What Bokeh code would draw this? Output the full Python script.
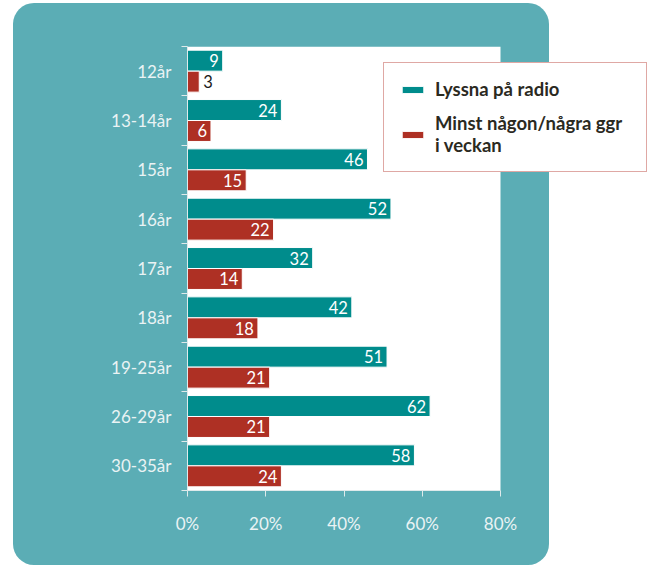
from bokeh.plotting import figure
from bokeh.models import (ColumnDataSource, Range1d, FixedTicker, PrintfTickFormatter,
                          BoxAnnotation, Legend, LegendItem)
from bokeh.embed import file_html
from bokeh.resources import INLINE
from bokeh.core.properties import value

categories = ["12år", "13-14år", "15år", "16år", "17år", "18år", "19-25år", "26-29år", "30-35år"]
radio = [9, 24, 46, 52, 32, 42, 51, 62, 58]
weekly = [3, 6, 15, 22, 14, 18, 21, 21, 24]
series_names = ["Lyssna på radio", "Minst någon/några ggr\ni veckan"]
x_ticks = [0, 20, 40, 60, 80]
x_max = 80

TEAL_BG = "#5BADB5"
TEAL = "#008C8C"
RED = "#AE3024"
AXIS_C = "#dfeaeb"
LABEL_C = "#eaf3f4"
FONT = "Lato"

W, H = 656, 565
PLOT_L, PLOT_R, PLOT_T, PLOT_B = 187, 500, 46, 490   # white plot area (px)
FRAME_R = 649                                          # frame extends right so the legend can overhang
BG_L, BG_T, BG_R, BG_B, BG_RAD = 13, 3, 549, 565, 21    # teal rounded panel (px)

px_per_unit = (PLOT_R - PLOT_L) / x_max
x_end = (FRAME_R - PLOT_L) / px_per_unit
bg_right_data = (BG_R - PLOT_L) / px_per_unit

BAR_H = 0.425
n = len(categories)
centers = [i + 0.5 for i in range(n)]
y_radio = [c - BAR_H / 2 for c in centers]
y_weekly = [c + BAR_H / 2 for c in centers]

p = figure(width=W, height=H, output_backend="svg", toolbar_location=None,
           x_range=Range1d(0, x_end), y_range=Range1d(n, 0),
           min_border_left=PLOT_L, min_border_right=W - FRAME_R,
           min_border_top=PLOT_T, min_border_bottom=H - PLOT_B)
p.border_fill_color = None
p.background_fill_color = None
p.outline_line_color = None
p.xgrid.visible = False
p.ygrid.visible = False

svg_bg = ("data:image/svg+xml;utf8,<svg xmlns='http://www.w3.org/2000/svg' width='%d' height='%d'>"
          "<rect x='%d' y='%d' width='%d' height='%d' rx='%d' fill='%s'/></svg>"
          % (W, H, BG_L, BG_T, BG_R - BG_L, BG_B - BG_T, BG_RAD, TEAL_BG.replace("#", "%23")))
p.styles = {"background-image": 'url("%s")' % svg_bg, "background-repeat": "no-repeat",
            "background-color": "white"}

# white plot area, and the white page to the right of the teal panel
plot_bg = BoxAnnotation(left=0, right=x_max, top=0, bottom=n,
                        fill_color="white", fill_alpha=1, line_color=None, level="underlay")
page_bg = BoxAnnotation(left=bg_right_data, right=x_end + 1, top=0, bottom=n,
                        fill_color="white", fill_alpha=1, line_color=None, level="underlay")
p.add_layout(plot_bg)
p.add_layout(page_bg)

src = ColumnDataSource(dict(cat=categories, radio=radio, weekly=weekly, y_radio=y_radio, y_weekly=y_weekly))
r1 = p.hbar(y="y_radio", left=0, right="radio", height=BAR_H, source=src,
            fill_color=TEAL, line_color="white", line_width=1)
r2 = p.hbar(y="y_weekly", left=0, right="weekly", height=BAR_H, source=src,
            fill_color=RED, line_color="white", line_width=1)

ins = dict(x=[], y=[], t=[])
outs = dict(x=[], y=[], t=[])
for vals, ys in ((radio, y_radio), (weekly, y_weekly)):
    for v, y in zip(vals, ys):
        d = ins if v >= 5 else outs
        d["x"].append(v)
        d["y"].append(y)
        d["t"].append(str(v))

p.text(x="x", y="y", text="t", source=ColumnDataSource(ins), text_align="right", text_baseline="middle",
       x_offset=-4, text_color="white", text_font=value(FONT), text_font_size="16.5px")
p.text(x="x", y="y", text="t", source=ColumnDataSource(outs), text_align="left", text_baseline="middle",
       x_offset=4, text_color="#1a1a1a", text_font=value(FONT), text_font_size="16.5px")

xa = p.xaxis[0]
xa.ticker = FixedTicker(ticks=x_ticks, minor_ticks=[])
xa.formatter = PrintfTickFormatter(format="%d%%")
xa.bounds = (0, x_max)
xa.major_tick_in = 0
xa.major_tick_out = 6
xa.minor_tick_out = 0
xa.axis_line_color = AXIS_C
xa.major_tick_line_color = AXIS_C
xa.major_label_text_color = LABEL_C
xa.major_label_text_font = FONT
xa.major_label_text_font_size = "17px"
xa.major_label_standoff = 16

ya = p.yaxis[0]
ya.ticker = FixedTicker(ticks=centers, minor_ticks=list(range(n + 1)))
ya.major_label_overrides = {c: name for c, name in zip(centers, categories)}
ya.major_tick_in = 0
ya.major_tick_out = 0
ya.minor_tick_in = 0
ya.minor_tick_out = 6
ya.axis_line_color = AXIS_C
ya.minor_tick_line_color = AXIS_C
ya.major_label_text_color = LABEL_C
ya.major_label_text_font = FONT
ya.major_label_text_font_size = "17px"
ya.major_label_standoff = 10

legend = Legend(items=[LegendItem(label=series_names[0], renderers=[r1]),
                       LegendItem(label=series_names[1], renderers=[r2])],
                location=(383 - PLOT_L, PLOT_B - 172), orientation="vertical",
                padding=15, spacing=12, margin=0,
                glyph_width=27, glyph_height=9, label_standoff=9, label_width=196, label_height=22,
                label_text_font=FONT, label_text_font_style="bold", label_text_font_size="18.5px",
                label_text_line_height=1.26,
                label_text_color="#2b2a1f",
                border_line_color="#c0514a", border_line_width=1.5,
                background_fill_color="white", background_fill_alpha=1)
p.add_layout(legend)

open("out.html", "w").write(file_html(p, INLINE))
